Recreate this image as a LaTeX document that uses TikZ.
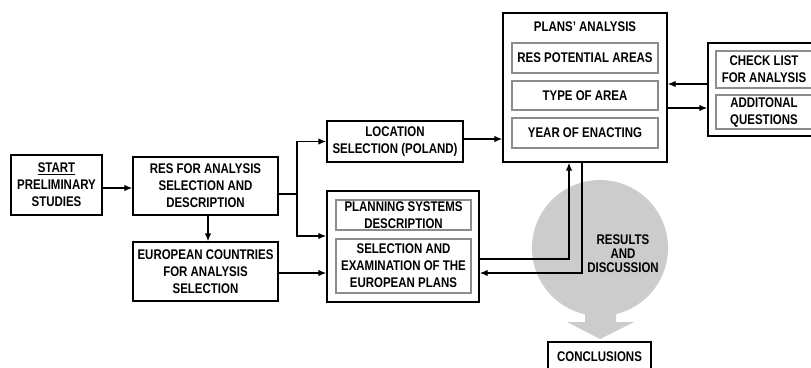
\documentclass[tikz,border=0pt]{standalone}
\usepackage{fontspec}
\setmainfont{Liberation Sans}[FakeStretch=0.82]
\usetikzlibrary{arrows.meta}

\begin{document}
\begin{tikzpicture}[x=1pt, y=-1pt,
	every node/.style={font=\bfseries\fontsize{14}{17}\selectfont, align=center, inner sep=0pt},
	>={Latex[length=8pt,width=6.5pt]},
	box/.style={draw, line width=1.4pt},
	inbox/.style={draw=black!45, line width=1.4pt},
	conn/.style={line width=1.4pt}]
	\useasboundingbox (0,0) rectangle (811,367);
	% results disc and its arrow
	\fill[black!20] (600,248) circle (68pt);
	\fill[black!20] (585,300) -- (616,300) -- (616,322) -- (634,322) -- (600,339) -- (567,322) -- (585,322) -- cycle;
	% left column
	\node[box, minimum width=91pt, minimum height=60pt] (start) at (56.5,185) {\underline{START}\\PRELIMINARY\\STUDIES};
	\node[box, minimum width=145pt, minimum height=58pt] (res) at (205.5,186) {RES FOR ANALYSIS\\SELECTION AND\\DESCRIPTION};
	\node[box, minimum width=145pt, minimum height=59pt] (euro) at (205.5,271.5) {EUROPEAN COUNTRIES\\FOR ANALYSIS\\SELECTION};
	\node[box, minimum width=136pt, minimum height=41pt] (loc) at (395,141.5) {LOCATION\\SELECTION (POLAND)};
	% planning systems
	\node[box, minimum width=152pt, minimum height=111pt] (plan) at (403,246.5) {};
	\node[inbox, minimum width=135pt, minimum height=30pt] (psys) at (403.5,215) {PLANNING SYSTEMS\\DESCRIPTION};
	\node[inbox, minimum width=135pt, minimum height=54pt] (sel) at (403.5,266) {SELECTION AND\\EXAMINATION OF THE\\EUROPEAN PLANS};
	% plans' analysis
	\node[box, minimum width=164pt, minimum height=149pt] (plans) at (585,87.5) {};
	\node (title) at (585,27) {PLANS' ANALYSIS};
	\node[inbox, minimum width=146pt, minimum height=30pt] (rpa) at (585,58) {RES POTENTIAL AREAS};
	\node[inbox, minimum width=146pt, minimum height=29pt] (toa) at (585,95.5) {TYPE OF AREA};
	\node[inbox, minimum width=146pt, minimum height=30pt] (yoe) at (585,133) {YEAR OF ENACTING};
	% check list
	\node[box, minimum width=108pt, minimum height=93pt] (chk) at (762,89.5) {};
	\node[inbox, minimum width=96pt, minimum height=37pt] (clist) at (764,69.5) {CHECK LIST\\FOR ANALYSIS};
	\node[inbox, minimum width=96pt, minimum height=34pt] (addq) at (764,112) {ADDITONAL\\QUESTIONS};
	% results and conclusions
	\node[font=\bfseries\fontsize{14}{14}\selectfont] (resd) at (623,254) {RESULTS\\AND\\DISCUSSION};
	\node[box, minimum width=103pt, minimum height=30pt] (concl) at (599.5,357) {CONCLUSIONS};
	% connectors
	\coordinate (split) at (297,194);
	\coordinate (pin) at (0,236);
	\coordinate (up) at (569,259);
	\coordinate (dn) at (582,273);
	\coordinate (ca) at (0,84);
	\coordinate (cb) at (0,108);
	\draw[conn, ->] (start.east |- 0,188) -- (res.west |- 0,188);
	\draw[conn] (res.east |- split) -- (split);
	\draw[conn, ->] (split) |- (loc.west);
	\draw[conn, ->] (split) |- (plan.west |- pin);
	\draw[conn, ->] (res.south -| 208,0) -- (euro.north -| 208,0);
	\draw[conn, ->] (euro.east |- 0,273) -- (plan.west |- 0,273);
	\draw[conn, ->] (loc.east |- 0,139) -- (plans.west |- 0,139);
	\draw[conn, ->] (plan.east |- up) -| (up |- plans.south);
	\draw[conn, ->] (dn |- plans.south) |- (plan.east |- dn);
	\draw[conn, ->] (chk.west |- ca) -- (plans.east |- ca);
	\draw[conn, ->] (plans.east |- cb) -- (chk.west |- cb);
\end{tikzpicture}
\end{document}
